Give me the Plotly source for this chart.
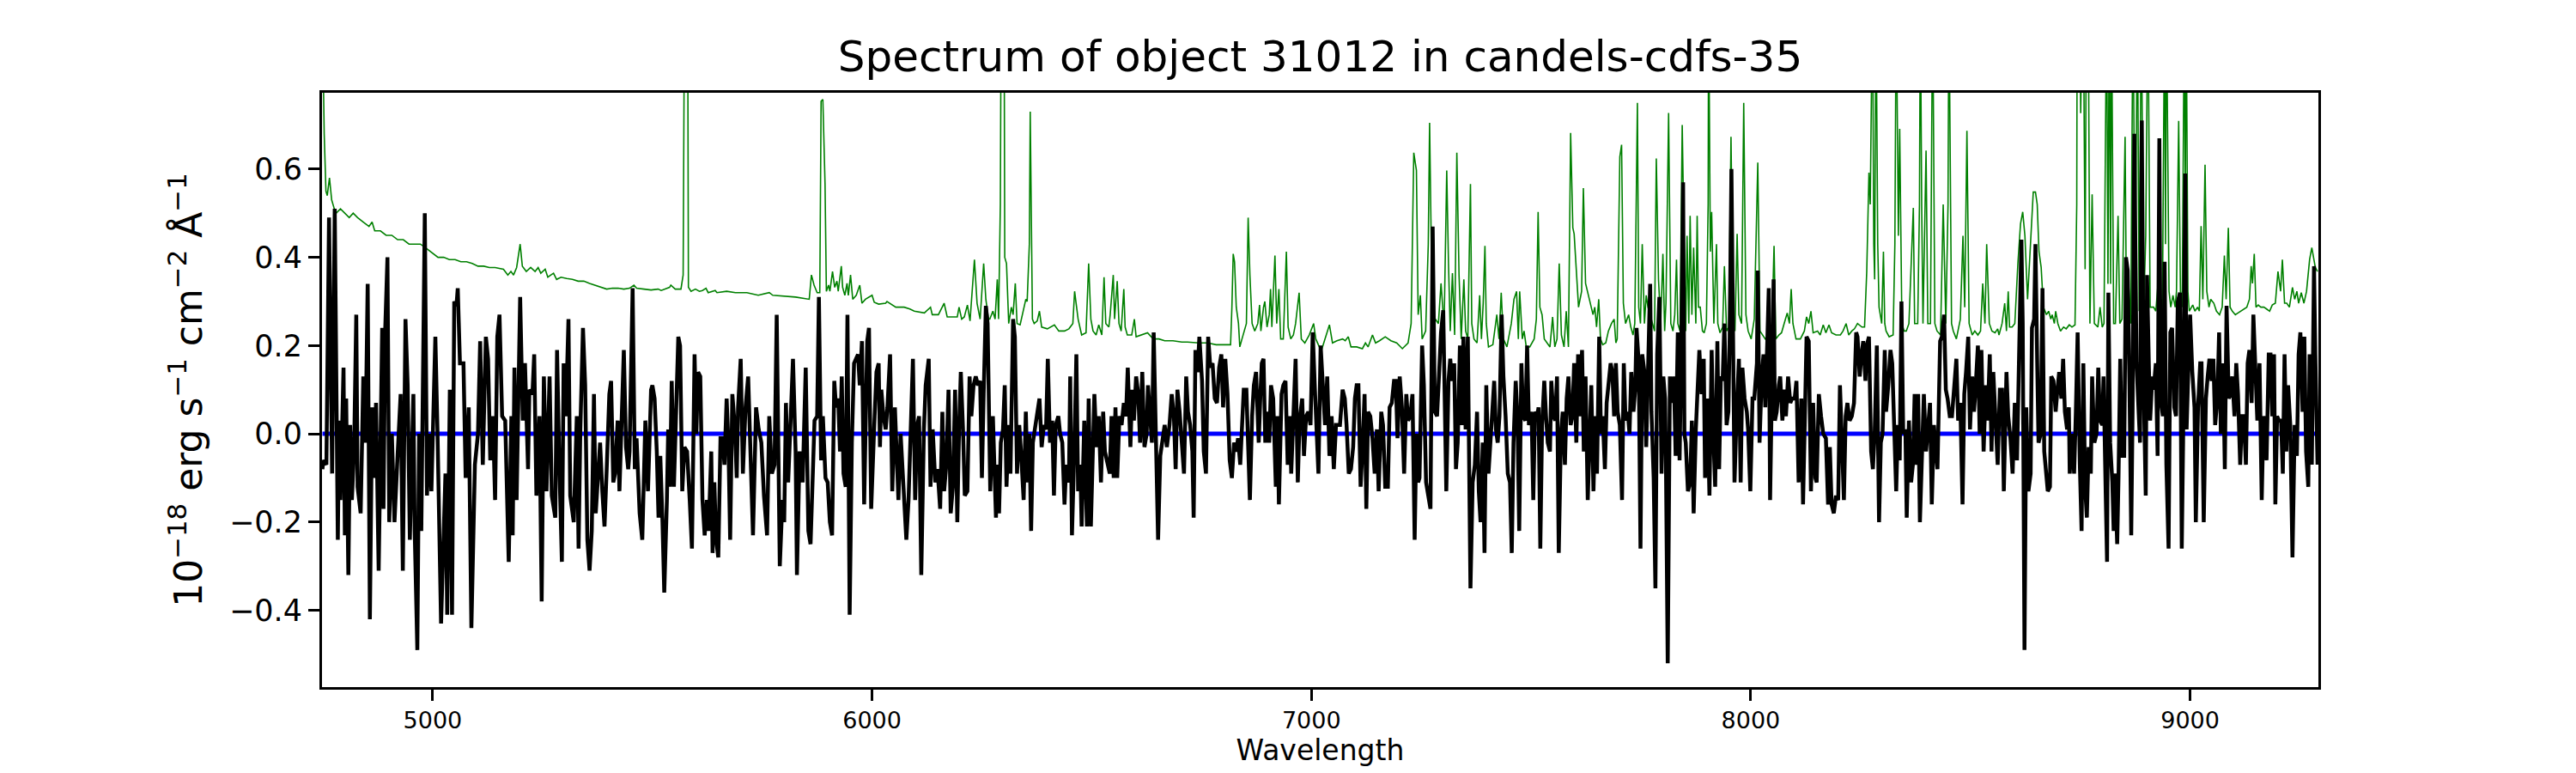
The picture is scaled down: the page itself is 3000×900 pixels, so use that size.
import plotly.graph_objects as go

# ---------------- data ----------------
TITLE = "Spectrum of object 31012 in candels-cdfs-35"
X_LABEL = "Wavelength"
Y_LABEL = "10<sup>\u221218</sup> erg s<sup>\u22121</sup> cm<sup>\u22122</sup> \u00c5<sup>\u22121</sup>"
X_TICKS = [5000, 6000, 7000, 8000, 9000]
Y_TICKS = [-0.4, -0.2, 0.0, 0.2, 0.4, 0.6]

# observed spectrum (black)
SPEC_WAVE = [
    4749, 4751, 4758, 4764, 4771, 4777, 4784, 4787, 4790, 4797,
    4800, 4803, 4808, 4812, 4816, 4821, 4826, 4829, 4836, 4842,
    4847, 4852, 4857, 4862, 4866, 4871, 4877, 4885, 4888, 4892,
    4897, 4901, 4907, 4913, 4920, 4927, 4932, 4938, 4943, 4948,
    4956, 4959, 4965, 4969, 4974, 4982, 4987, 4992, 4997, 5006,
    5011, 5019, 5029, 5033, 5039, 5044, 5049, 5054, 5057, 5062,
    5070, 5075, 5082, 5088, 5096, 5103, 5108, 5114, 5121, 5126,
    5131, 5137, 5142, 5147, 5152, 5158, 5165, 5173, 5179, 5182,
    5186, 5191, 5199, 5205, 5210, 5217, 5220, 5227, 5231, 5236,
    5243, 5248, 5253, 5259, 5266, 5271, 5279, 5283, 5288, 5294,
    5298, 5303, 5309, 5313, 5321, 5328, 5332, 5336, 5342, 5347,
    5352, 5357, 5362, 5367, 5371, 5376, 5381, 5386, 5391, 5396,
    5402, 5406, 5411, 5415, 5421, 5425, 5430, 5435, 5440, 5445,
    5448, 5455, 5460, 5464, 5471, 5477, 5484, 5490, 5497,
    5500, 5505, 5510, 5514, 5518, 5523, 5527, 5533, 5536, 5540,
    5544, 5549, 5553, 5559, 5563, 5568, 5573, 5579, 5585, 5590,
    5596, 5600, 5604, 5609, 5614, 5619, 5624, 5628, 5634, 5637,
    5641, 5645, 5650, 5655, 5660, 5664, 5669, 5673, 5677, 5682,
    5688, 5692, 5695, 5701, 5706, 5712, 5718, 5723, 5729, 5736,
    5742, 5748, 5754, 5761, 5766, 5772, 5778, 5783, 5790, 5796,
    5800, 5804, 5809, 5815, 5820, 5826, 5829, 5835, 5842, 5849,
    5855, 5860, 5865, 5869, 5875, 5879, 5884, 5888, 5894, 5899,
    5904, 5909, 5914, 5918, 5923, 5927, 5931, 5935, 5940, 5944,
    5949, 5954, 5959, 5964, 5968, 5972, 5977, 5982, 5989, 5993,
    5998, 6005, 6010, 6015, 6018, 6021, 6026, 6031, 6035, 6041,
    6046, 6052, 6057, 6060, 6065, 6072, 6078, 6083, 6088, 6093,
    6098, 6103, 6107, 6112, 6118, 6122, 6129, 6133, 6138, 6144,
    6149, 6155, 6160, 6164, 6169, 6174, 6179, 6184, 6189, 6194,
    6198, 6202, 6207, 6211, 6217, 6222, 6226, 6231, 6236, 6241,
    6246, 6250, 6254, 6259, 6263, 6269, 6275,
    6282, 6285, 6289, 6293, 6298, 6302, 6306, 6311, 6315, 6321,
    6325, 6330, 6335, 6339, 6345, 6350, 6354, 6358, 6362, 6366,
    6371, 6376, 6381, 6386, 6391, 6396, 6400, 6405, 6410, 6414,
    6418, 6424, 6428, 6433, 6438, 6442, 6448, 6451, 6455, 6461,
    6465, 6469, 6474, 6477, 6483, 6489, 6493, 6498, 6502, 6506,
    6511, 6516, 6521, 6526, 6530, 6536, 6541, 6545, 6550, 6554,
    6558, 6563, 6568, 6573, 6578, 6582, 6588, 6592, 6596, 6601,
    6606, 6610, 6615, 6620, 6625, 6628, 6632, 6637, 6641, 6646,
    6651, 6656, 6661, 6666, 6671, 6677, 6682, 6687, 6691, 6695,
    6700, 6705, 6710, 6715, 6719, 6724, 6729, 6732, 6736, 6741,
    6745, 6751, 6755, 6760, 6765, 6770, 6775, 6780, 6785, 6790,
    6795, 6799, 6804, 6809, 6814, 6819, 6824, 6829, 6833, 6838,
    6842, 6846, 6852, 6856, 6860, 6865, 6869, 6874, 6880, 6884,
    6887, 6891, 6895, 6899, 6904, 6908, 6913, 6919, 6923, 6926,
    6932, 6936, 6941, 6946, 6951, 6954, 6959, 6964, 6969, 6973,
    6979, 6983, 6988, 6993, 6998, 7003, 7008, 7012, 7016, 7021,
    7025, 7031, 7036, 7041,
    7046, 7051, 7056, 7061, 7065, 7071, 7076, 7080, 7085, 7090,
    7095, 7099, 7103, 7107, 7112, 7116, 7121, 7125, 7129, 7134,
    7139, 7144, 7149, 7153, 7159, 7163, 7168, 7174, 7178, 7183,
    7188, 7192, 7196, 7201, 7206, 7211, 7216, 7220, 7225, 7230,
    7235, 7239, 7243, 7246, 7252, 7256, 7261, 7266, 7271, 7276,
    7281, 7286, 7291, 7295, 7300, 7304, 7307, 7312, 7316, 7320,
    7325, 7329, 7333, 7338, 7342, 7346, 7351, 7356, 7360, 7362,
    7367, 7372, 7377, 7381, 7385, 7390, 7394, 7398, 7403, 7407,
    7412, 7416, 7420, 7424, 7428, 7433, 7437, 7442, 7447, 7452,
    7456, 7460, 7465, 7469, 7473, 7478, 7482, 7487, 7491, 7495,
    7501, 7505, 7509, 7514, 7517, 7521, 7525, 7530, 7534, 7538,
    7543, 7546, 7551, 7555, 7559, 7563, 7568, 7572, 7577, 7581,
    7585, 7590, 7594, 7598, 7603, 7607, 7611, 7616, 7620, 7624,
    7629, 7633, 7637, 7642, 7646, 7650, 7655, 7659, 7663, 7668,
    7672, 7676, 7681, 7685, 7689, 7693, 7697, 7702, 7707, 7711,
    7715, 7720, 7724, 7728, 7733, 7737, 7740, 7745, 7749, 7753,
    7758, 7762, 7766, 7771, 7774, 7779, 7783, 7787, 7792, 7797,
    7801, 7805,
    7807, 7811, 7816, 7821, 7825, 7829, 7834, 7838, 7842, 7846,
    7849, 7852, 7857, 7862, 7866, 7870, 7875, 7878, 7883, 7888,
    7893, 7896, 7901, 7906, 7911, 7915, 7919, 7924, 7928, 7932,
    7936, 7940, 7945, 7949, 7952, 7956, 7960, 7963, 7968, 7973,
    7977, 7981, 7986, 7991, 7994, 7999, 8004, 8008, 8014, 8016,
    8020, 8025, 8029, 8033, 8038, 8041, 8044, 8048, 8052, 8055,
    8059, 8064, 8067, 8072, 8076, 8080, 8085, 8090, 8094, 8100,
    8104, 8109, 8115, 8119, 8124, 8127, 8132, 8137, 8142, 8147,
    8150, 8155, 8160, 8165, 8171, 8176, 8180, 8184, 8189, 8194,
    8199, 8203, 8207, 8212, 8216, 8220, 8225, 8230, 8235, 8240,
    8243, 8248, 8252, 8256, 8261, 8264, 8269, 8274, 8278, 8282,
    8287, 8292, 8296, 8300, 8305, 8308, 8313, 8318, 8322, 8326,
    8331, 8335, 8339, 8343, 8347, 8352, 8355, 8360, 8365, 8369,
    8373, 8378, 8381, 8385, 8390, 8394, 8399, 8404, 8408, 8412,
    8417, 8421, 8425, 8431, 8435, 8440, 8444, 8448, 8453, 8458,
    8463, 8468, 8472, 8477, 8482, 8486, 8490, 8495, 8499, 8504,
    8508, 8511, 8517, 8521, 8525, 8530, 8535, 8539, 8544, 8548,
    8552, 8557, 8562, 8567,
    8572, 8576, 8582, 8586, 8591, 8596, 8601, 8606, 8611, 8616,
    8619, 8623, 8627, 8632, 8637, 8640, 8645, 8648, 8652, 8655,
    8660, 8664, 8668, 8671, 8676, 8681, 8684, 8689, 8694, 8698,
    8702, 8707, 8711, 8715, 8720, 8724, 8726, 8731, 8736, 8740,
    8744, 8749, 8753, 8757, 8761, 8765, 8769, 8774, 8777, 8782,
    8787, 8791, 8795, 8800, 8803, 8808, 8811, 8814, 8818, 8823,
    8826, 8829, 8834, 8837, 8841, 8845, 8850, 8854, 8858, 8862,
    8866, 8869, 8873, 8878, 8881, 8886, 8890, 8894, 8899, 8902,
    8906, 8909, 8914, 8917, 8922, 8926, 8930, 8933, 8938, 8942,
    8946, 8951, 8955, 8959, 8964, 8968, 8972, 8977, 8981, 8984,
    8989, 8992, 8997, 9000, 9005, 9010, 9013, 9018, 9023, 9026,
    9031, 9036, 9040, 9044, 9049, 9053, 9057, 9062, 9066, 9070,
    9075, 9079, 9083, 9088, 9092, 9096, 9101, 9105, 9109, 9114,
    9118, 9122, 9127, 9131, 9135, 9140, 9144, 9148, 9153, 9158,
    9163, 9167, 9171, 9174, 9179, 9183, 9187, 9191, 9194, 9198,
    9202, 9207, 9211, 9215, 9219, 9223, 9228, 9233, 9238, 9243,
    9247, 9251, 9256, 9260, 9264, 9269, 9272, 9277, 9282, 9285,
    9290,
]
SPEC_FLUX = [
    -0.08, -0.06, -0.07, 0.49, -0.09, 0.51, -0.24, 0.03, -0.15, 0.15,
    -0.23, 0.08, -0.32, 0.02, -0.15, -0.04, 0.27, -0.12, -0.18, 0.13,
    -0.02, 0.34, -0.42, 0.06, -0.10, 0.07, -0.31, 0.24, -0.17, 0.24,
    0.40, -0.20, 0.0, -0.20, -0.05, 0.09, -0.31, 0.26, 0.11, -0.24,
    0.09, -0.22, -0.49, 0.0, -0.22, 0.50, -0.14, 0.0, -0.13, 0.22,
    0.0, -0.43, -0.09, -0.41, 0.10, -0.41, 0.30, 0.29, 0.33, 0.16,
    0.16, -0.10, 0.06, -0.44, -0.07, 0.0, 0.21, -0.07, 0.22, 0.17,
    -0.06, 0.04, -0.15, 0.22, 0.27, 0.04, 0.03, -0.29, 0.04, -0.23,
    0.15, -0.15, 0.31, 0.03, 0.16, -0.08, 0.10, 0.09, 0.18, -0.14,
    0.04, -0.38, 0.13, -0.13, 0.13, -0.14, -0.19, 0.19, -0.06, -0.29,
    0.16, 0.04, 0.26, -0.14, -0.20, 0.04, -0.26, 0.01, 0.24, 0.11,
    -0.24, -0.31, -0.22, 0.09, -0.18, -0.11, -0.02, -0.13, -0.21, -0.08,
    0.09, 0.12, -0.11, -0.09, 0.03, -0.13, 0.04, 0.19, -0.03, -0.08,
    -0.04, 0.33, -0.08, -0.01, -0.18, -0.24, 0.03, -0.13, 0.10,
    0.11, 0.08, -0.04, -0.19, -0.05, -0.20, -0.36, -0.15, 0.01, -0.12,
    0.12, -0.12, 0.0, 0.22, 0.20, -0.13, -0.03, -0.04, -0.15, -0.26,
    0.18, 0.0, 0.14, 0.13, -0.15, -0.23, -0.15, -0.22, -0.04, -0.27,
    -0.11, -0.24, -0.28, -0.01, -0.01, -0.07, 0.08, -0.02, -0.24, 0.09,
    0.01, -0.10, 0.06, 0.17, -0.09, 0.06, 0.13, -0.02, -0.23, 0.06,
    0.01, -0.02, -0.14, -0.23, 0.04, -0.09, -0.07, 0.27, -0.30, -0.15,
    -0.20, 0.07, -0.11, 0.04, 0.17, -0.04, -0.32, -0.04, -0.11, 0.15,
    -0.22, -0.25, -0.07, 0.03, 0.04, 0.31, -0.06, 0.04, -0.10, -0.11,
    -0.20, -0.23, 0.12, 0.06, 0.08, -0.04, 0.13, -0.09, -0.12, 0.27,
    -0.41, -0.02, 0.16, 0.17, 0.18, 0.11, 0.21, -0.16, 0.21, 0.24,
    -0.17, 0.02, 0.14, 0.16, -0.03, 0.10, 0.04, 0.01, 0.06, 0.18,
    -0.13, 0.06, -0.11, -0.15, 0.0, -0.13, -0.24, -0.15, 0.04, 0.17,
    -0.15, 0.02, 0.04, -0.32, 0.01, 0.11, 0.17, -0.12, 0.01, -0.11,
    -0.08, -0.17, 0.05, -0.13, -0.07, 0.10, -0.18, -0.12, 0.10, -0.20,
    0.01, 0.14, 0.01, -0.14, -0.13, 0.13, 0.04, 0.11, 0.13, 0.11,
    0.12, -0.10, 0.09, 0.29, 0.25, -0.13, 0.04,
    -0.19, -0.07, -0.18, -0.02, 0.01, 0.11, -0.12, 0.02, -0.09, 0.26,
    0.22, -0.09, 0.02, -0.04, -0.15, 0.05, -0.11, 0.0, -0.22, -0.02,
    0.01, 0.04, 0.08, -0.03, 0.02, 0.01, 0.17, -0.02, 0.03, -0.14,
    0.02, 0.04, 0.0, -0.02, -0.16, -0.07, -0.11, 0.13, -0.23, -0.01,
    0.18, -0.13, -0.07, -0.21, 0.03, -0.21, 0.08, -0.21, -0.07, 0.09,
    -0.03, 0.04, -0.11, 0.05, -0.04, -0.07, -0.09, 0.04, -0.10, 0.06,
    -0.10, 0.04, 0.02, 0.07, 0.04, 0.15, -0.03, 0.10, 0.03, 0.13,
    0.09, -0.02, 0.14, -0.03, 0.0, 0.11, 0.04, -0.02, 0.23, -0.01,
    -0.24, -0.05, -0.02, 0.02, -0.03, 0.02, 0.09, 0.04, -0.08, 0.10,
    0.05, -0.02, -0.09, 0.13, 0.05, 0.02, -0.04, -0.19, 0.19, 0.14,
    0.22, 0.12, -0.04, -0.09, 0.22, 0.15, 0.16, 0.08, 0.07, 0.15,
    0.18, 0.06, 0.17, 0.09, -0.06, -0.10, -0.02, -0.04, -0.01, -0.07,
    0.0, 0.10, 0.10, -0.02, -0.15, 0.04, 0.11, 0.14, -0.02, 0.09,
    0.16, 0.17, -0.02, 0.05, -0.02, 0.11, 0.08, -0.12, 0.04, -0.16,
    0.09, 0.11, 0.12, -0.07, 0.04, -0.09, 0.07, 0.17, -0.11, 0.03,
    0.08, -0.05, 0.04, 0.05, 0.02, 0.23, 0.10, -0.02, -0.09, 0.20,
    0.14, 0.02, 0.13, -0.05,
    0.04, -0.08, 0.02, 0.02, 0.02, 0.10, 0.08, 0.02, -0.09, -0.08,
    -0.03, 0.08, 0.11, 0.11, -0.12, -0.04, 0.09, -0.17, 0.05, 0.04,
    -0.01, -0.09, 0.01, -0.13, 0.05, 0.02, -0.12, -0.12, 0.06, 0.07,
    0.12, 0.12, -0.01, 0.13, 0.06, -0.09, 0.09, 0.03, 0.04, 0.09,
    -0.24, 0.0, -0.11, -0.10, 0.20, 0.11, -0.11, -0.14, -0.17, 0.47,
    0.05, 0.04, 0.14, 0.23, 0.28, 0.03, -0.13, 0.12, 0.17, 0.12,
    0.16, -0.08, -0.02, 0.20, 0.02, 0.22, 0.01, 0.22, -0.06, -0.35,
    -0.11, -0.07, 0.05, -0.13, -0.20, -0.02, -0.27, 0.11, -0.09, -0.02,
    0.05, 0.12, 0.01, -0.02, 0.04, 0.27, 0.13, 0.04, -0.09, -0.11,
    -0.27, -0.02, 0.12, 0.04, -0.22, 0.16, 0.04, 0.03, 0.20, 0.02,
    0.05, -0.15, 0.05, 0.04, 0.06, -0.26, 0.02, 0.12, 0.04, -0.02,
    -0.04, 0.12, 0.04, 0.03, 0.13, -0.27, 0.0, 0.05, -0.07, 0.08,
    0.13, 0.02, 0.04, 0.16, -0.02, 0.18, 0.04, 0.19, -0.04, 0.13,
    -0.15, 0.02, 0.11, -0.13, 0.04, -0.09, 0.22, 0.0, 0.04, -0.08,
    0.07, 0.11, 0.16, 0.14, 0.04, 0.16, 0.05, 0.02, -0.15, 0.16,
    0.03, 0.05, 0.0, 0.14, 0.05, 0.10, 0.24, 0.16, -0.26, 0.18,
    0.14, -0.03, 0.13, 0.34, 0.05, -0.10, -0.35, 0.18, 0.31, -0.09,
    0.13, 0.08,
    -0.07, -0.52, 0.13, 0.07, 0.13, -0.05, 0.23, -0.06, 0.20, 0.57,
    0.0, -0.02, -0.13, -0.11, 0.03, -0.18, 0.01, 0.08, 0.19, 0.09,
    0.17, -0.10, 0.08, -0.14, 0.19, -0.01, -0.12, 0.21, -0.08, 0.13,
    0.12, 0.25, 0.02, 0.05, 0.22, 0.60, 0.02, -0.11, 0.05, 0.17,
    -0.11, 0.15, 0.08, 0.05, 0.01, -0.13, 0.08, 0.08, 0.16, 0.37,
    -0.02, 0.13, 0.18, 0.06, 0.22, 0.33, -0.15, 0.13, 0.35, 0.03,
    0.05, 0.11, 0.13, 0.03, 0.10, 0.04, 0.13, 0.07, 0.08, 0.08,
    0.12, -0.11, 0.08, -0.16, 0.04, 0.22, 0.21, -0.13, 0.07, -0.10,
    -0.11, 0.09, 0.04, 0.0, -0.01, -0.16, -0.03, -0.16, -0.18, -0.14,
    -0.15, 0.11, 0.0, -0.15, 0.04, 0.07, 0.03, 0.04, 0.07, 0.23,
    0.22, 0.13, 0.18, 0.21, 0.12, 0.20, 0.22, -0.04, -0.08, 0.0,
    0.20, -0.20, -0.02, 0.0, 0.19, 0.05, 0.11, 0.19, 0.16, 0.05,
    -0.13, 0.02, -0.06, 0.30, 0.0, 0.01, -0.19, 0.03, -0.11, -0.07,
    0.09, -0.07, 0.09, -0.20, 0.01, 0.09, -0.04, 0.01, 0.07, -0.16,
    0.02, -0.04, -0.08, 0.21, 0.22, 0.27, 0.10, 0.08, 0.04, 0.04,
    0.10, 0.17, 0.03, 0.07, -0.16, 0.09, 0.14, 0.22, 0.01, 0.13,
    0.05, 0.09, 0.20, 0.0, 0.19, -0.04, 0.11, 0.03, 0.18, -0.04,
    0.14, 0.05, -0.07, 0.10,
    0.10, -0.13, 0.14, 0.04, -0.01, -0.09, 0.07, -0.06, 0.20, 0.44,
    0.25, -0.49, 0.06, -0.13, -0.09, 0.24, 0.26, 0.43, 0.16, -0.02,
    0.0, 0.33, -0.04, -0.07, -0.13, -0.12, 0.13, 0.12, 0.05, 0.10,
    0.14, 0.08, 0.17, 0.05, 0.01, 0.06, -0.09, 0.0, -0.09, 0.05,
    0.23, -0.07, -0.22, 0.16, -0.12, -0.19, -0.03, -0.09, 0.13, -0.02,
    0.0, 0.15, 0.03, 0.02, 0.13, -0.14, -0.29, 0.32, -0.02, -0.11,
    -0.22, -0.09, -0.25, -0.10, 0.17, -0.05, -0.05, 0.40, 0.37, 0.11,
    -0.23, 0.05, 0.68, 0.16, 0.08, -0.02, 0.71, 0.12, -0.14, 0.36,
    0.16, 0.03, 0.13, 0.10, 0.16, -0.05, 0.67, 0.08, 0.04, 0.39,
    -0.07, -0.26, 0.23, 0.24, 0.06, 0.04, 0.30, 0.32, -0.26, -0.02,
    0.59, 0.01, 0.18, 0.27, 0.14, 0.06, -0.20, 0.06, 0.16, 0.16,
    -0.20, 0.08, 0.13, 0.17, 0.12, 0.17, 0.02, 0.08, 0.23, 0.0,
    0.16, -0.08, 0.29, 0.08, 0.09, 0.13, 0.04, 0.16, 0.09, -0.07,
    0.04, 0.04, -0.07, 0.16, 0.19, 0.07, 0.27, 0.14, 0.03, 0.16,
    -0.15, 0.04, 0.0, -0.06, 0.18, 0.18, 0.04, 0.18, -0.16, 0.04,
    0.03, 0.03, -0.09, 0.18, -0.04, 0.11, 0.02, -0.28, 0.02, -0.05,
    0.18, 0.23, 0.05, 0.22, -0.04, -0.12, 0.18, -0.07, 0.38, 0.18,
    -0.07,
]

# noise / sky spectrum (green)
SKY_WAVE = [
    4749, 4753, 4757, 4760, 4765, 4770, 4776, 4780, 4790, 4800,
    4810, 4819, 4829, 4842, 4855, 4862, 4868, 4881, 4894, 4907,
    4920, 4933, 4946, 4959, 4972, 4986, 4999, 5012, 5025, 5038,
    5051, 5064, 5077, 5090, 5103, 5116, 5129, 5142, 5161, 5171,
    5178, 5184, 5191, 5194, 5199, 5204, 5213, 5223, 5233, 5240,
    5246, 5256, 5262, 5269, 5275, 5282, 5292, 5305, 5318, 5331,
    5344, 5357, 5370, 5383, 5396, 5409, 5422, 5435, 5448, 5458,
    5464, 5481, 5497, 5513, 5520, 5539, 5542, 5552, 5565, 5570,
    5573, 5577, 5579, 5582, 5588, 5598, 5607, 5614, 5622, 5627,
    5643, 5647, 5669, 5689, 5715, 5741, 5766, 5774, 5800, 5826,
    5857, 5862, 5868, 5875, 5881, 5884, 5888, 5891, 5893, 5896,
    5901, 5904, 5910, 5915, 5920, 5923, 5930, 5933, 5938, 5943,
    5946, 5951, 5956, 5964, 5972, 5977, 5985, 6000, 6005, 6015,
    6031, 6034, 6054, 6073, 6086, 6096, 6119, 6133, 6137, 6151,
    6164, 6171, 6184, 6194, 6198, 6204, 6210, 6217, 6223, 6233,
    6239, 6246, 6254, 6259, 6265, 6268, 6275, 6280, 6285, 6288,
    6292, 6293, 6296, 6300, 6302, 6306, 6311, 6317, 6321, 6326,
    6330, 6337, 6343, 6350, 6353, 6358, 6360, 6363, 6365, 6369,
    6376, 6381, 6386, 6399, 6415, 6425, 6438, 6448, 6457, 6461,
    6464, 6469, 6477, 6487, 6493, 6498, 6503, 6510, 6516, 6523,
    6528, 6532, 6539, 6542, 6549, 6552, 6558, 6562, 6567, 6573,
    6576, 6581, 6591, 6597, 6601, 6614, 6627, 6640, 6653, 6666,
    6685, 6705, 6718, 6744, 6764, 6783, 6816, 6819, 6822, 6825,
    6829, 6834, 6837, 6842, 6852, 6856, 6860, 6865, 6871, 6878,
    6882, 6885, 6891, 6894, 6899, 6904, 6907, 6910, 6917, 6921,
    6926, 6930, 6936, 6943, 6947, 6953, 6959, 6964, 6972, 6977,
    6985, 6995, 7005, 7010, 7018, 7024, 7033, 7041, 7048, 7058,
    7071, 7077, 7084, 7090, 7103, 7116, 7123, 7129, 7139, 7146,
    7155, 7168, 7181, 7194, 7207, 7220, 7227, 7233, 7239, 7243,
    7248, 7252, 7260, 7266, 7269, 7273, 7278, 7282, 7289, 7295,
    7302, 7308, 7312, 7316, 7321, 7326, 7331, 7336, 7341, 7347,
    7351, 7356, 7362, 7365, 7370, 7377, 7383, 7387, 7391, 7395,
    7398, 7403, 7413, 7422, 7427, 7432, 7437, 7445, 7455, 7461,
    7467, 7471, 7474, 7480, 7484, 7489, 7497, 7507, 7512, 7516,
    7520, 7525, 7530, 7536, 7543, 7549, 7554, 7559, 7564, 7569,
    7575, 7580, 7585, 7590, 7595, 7598, 7603, 7608, 7615, 7619,
    7624, 7630, 7634, 7641, 7645, 7649, 7654, 7658, 7663, 7670,
    7676, 7683, 7689, 7693, 7696, 7702, 7706, 7710, 7715, 7722,
    7727, 7732, 7736, 7742, 7745, 7749, 7753, 7758, 7762, 7766,
    7771, 7781, 7785, 7790, 7795, 7800, 7804, 7807, 7813, 7818,
    7823, 7827, 7831, 7834, 7839, 7844, 7848, 7852, 7855, 7859,
    7862, 7866, 7870, 7875, 7878, 7881, 7885, 7890, 7894, 7899,
    7903, 7904, 7908, 7911, 7916, 7922, 7925, 7930, 7936, 7940,
    7945, 7950, 7955, 7960, 7964, 7969, 7973, 7979, 7984, 7989,
    7994, 8001, 8008, 8016, 8021, 8027, 8033, 8041, 8048, 8053,
    8057, 8064, 8070, 8076, 8083, 8088, 8092, 8096, 8103, 8113,
    8122, 8127, 8132, 8137, 8142, 8152, 8158, 8165, 8171, 8178,
    8184, 8194, 8204, 8210, 8217, 8223, 8230, 8236, 8243, 8253,
    8259, 8264, 8269, 8272, 8277, 8280, 8282, 8285, 8289, 8292,
    8298, 8302, 8305, 8308, 8315, 8324, 8328, 8331, 8336, 8339,
    8344, 8349, 8354, 8360, 8370, 8373, 8380, 8384, 8386, 8389,
    8392, 8399, 8403, 8409, 8414, 8419, 8424, 8432, 8438, 8444,
    8449, 8451, 8454, 8457, 8461, 8468, 8477, 8483, 8487, 8492,
    8497, 8504, 8510, 8517, 8523, 8528, 8533, 8537, 8543, 8549,
    8556, 8562, 8565, 8572, 8578, 8582, 8586, 8589, 8595, 8601,
    8608, 8614, 8619, 8624, 8630, 8637, 8643, 8648, 8652, 8656,
    8661, 8666, 8673, 8678, 8683, 8686, 8691, 8694, 8699, 8705,
    8712, 8718, 8725, 8731, 8738, 8742, 8743, 8748, 8751, 8755,
    8757, 8761, 8764, 8768, 8772, 8777, 8782, 8790, 8795, 8800,
    8804, 8810, 8813, 8816, 8819, 8821, 8826, 8830, 8836, 8840,
    8845, 8852, 8855, 8860, 8865, 8870, 8875, 8880, 8884, 8889,
    8894, 8899, 8904, 8909, 8917, 8922, 8927, 8931, 8937, 8942,
    8944, 8946, 8952, 8956, 8961, 8966, 8969, 8974, 8978, 8982,
    8987, 8989, 8991, 8995, 8998, 9006, 9011, 9017, 9021, 9025,
    9029, 9034, 9038, 9043, 9047, 9054, 9060, 9067, 9073, 9078,
    9082, 9087, 9091, 9096, 9103, 9109, 9116, 9122, 9129, 9135,
    9139, 9142, 9146, 9150, 9155, 9161, 9168, 9174, 9181, 9187,
    9194, 9200, 9206, 9210, 9215, 9220, 9226, 9233, 9238, 9243,
    9247, 9253, 9259, 9265, 9272, 9277, 9282, 9285, 9290,
]
SKY_FLUX = [
    0.95, 0.68, 0.55, 0.54, 0.58, 0.53, 0.51, 0.50, 0.51, 0.50,
    0.49, 0.50, 0.49, 0.48, 0.47, 0.48, 0.46, 0.46, 0.45, 0.45,
    0.44, 0.44, 0.43, 0.43, 0.43, 0.42, 0.41, 0.40, 0.40, 0.395,
    0.395, 0.39, 0.39, 0.386, 0.38, 0.38, 0.377, 0.377, 0.373, 0.36,
    0.368, 0.36, 0.377, 0.395, 0.43, 0.38, 0.368, 0.377, 0.368, 0.377,
    0.364, 0.373, 0.355, 0.36, 0.364, 0.35, 0.355, 0.352, 0.35, 0.346,
    0.346, 0.341, 0.337, 0.332, 0.328, 0.33, 0.33, 0.328, 0.33, 0.337,
    0.33, 0.328, 0.326, 0.328, 0.325, 0.332, 0.337, 0.328, 0.328, 0.36,
    1.5, 1.8, 1.5, 0.332, 0.323, 0.328, 0.323, 0.325, 0.33, 0.32,
    0.325, 0.32, 0.323, 0.32, 0.32, 0.314, 0.32, 0.314, 0.312, 0.31,
    0.305, 0.36, 0.337, 0.32, 0.32, 0.754, 0.758, 0.61, 0.565, 0.323,
    0.337, 0.323, 0.368, 0.332, 0.346, 0.323, 0.38, 0.332, 0.314, 0.341,
    0.314, 0.36, 0.305, 0.314, 0.337, 0.296, 0.305, 0.314, 0.298, 0.294,
    0.296, 0.30, 0.287, 0.287, 0.283, 0.278, 0.274, 0.287, 0.27, 0.27,
    0.296, 0.265, 0.265, 0.265, 0.287, 0.26, 0.265, 0.292, 0.256, 0.395,
    0.296, 0.26, 0.386, 0.305, 0.26, 0.26, 0.278, 0.26, 0.35, 0.26,
    0.52, 1.2, 1.6, 1.2, 0.40, 0.386, 0.25, 0.287, 0.27, 0.341,
    0.25, 0.247, 0.274, 0.305, 0.30, 0.43, 0.73, 0.40, 0.26, 0.25,
    0.256, 0.278, 0.242, 0.238, 0.247, 0.233, 0.233, 0.238, 0.25, 0.323,
    0.296, 0.26, 0.224, 0.229, 0.386, 0.26, 0.233, 0.224, 0.247, 0.224,
    0.355, 0.25, 0.242, 0.27, 0.36, 0.26, 0.346, 0.25, 0.233, 0.328,
    0.242, 0.224, 0.224, 0.26, 0.22, 0.224, 0.229, 0.215, 0.215, 0.211,
    0.211, 0.208, 0.208, 0.206, 0.206, 0.202, 0.202, 0.287, 0.408, 0.39,
    0.287, 0.25, 0.197, 0.215, 0.25, 0.49, 0.36, 0.25, 0.233, 0.25,
    0.292, 0.233, 0.287, 0.30, 0.242, 0.27, 0.328, 0.242, 0.404, 0.25,
    0.328, 0.215, 0.215, 0.413, 0.242, 0.215, 0.224, 0.25, 0.32, 0.215,
    0.206, 0.224, 0.25, 0.215, 0.197, 0.193, 0.22, 0.247, 0.206, 0.211,
    0.215, 0.211, 0.22, 0.197, 0.197, 0.193, 0.206, 0.197, 0.224, 0.206,
    0.211, 0.22, 0.211, 0.206, 0.193, 0.206, 0.25, 0.637, 0.597, 0.27,
    0.314, 0.215, 0.233, 0.43, 0.705, 0.413, 0.229, 0.26, 0.25, 0.341,
    0.242, 0.597, 0.386, 0.233, 0.364, 0.224, 0.637, 0.36, 0.215, 0.35,
    0.233, 0.215, 0.566, 0.25, 0.215, 0.206, 0.314, 0.215, 0.296, 0.426,
    0.25, 0.197, 0.202, 0.27, 0.215, 0.32, 0.215, 0.197, 0.25, 0.305,
    0.323, 0.215, 0.323, 0.215, 0.233, 0.197, 0.197, 0.215, 0.26, 0.503,
    0.287, 0.27, 0.215, 0.206, 0.197, 0.265, 0.197, 0.215, 0.386, 0.224,
    0.197, 0.278, 0.197, 0.682, 0.467, 0.453, 0.36, 0.287, 0.323, 0.557,
    0.341, 0.314, 0.30, 0.27, 0.287, 0.242, 0.305, 0.215, 0.202, 0.206,
    0.233, 0.25, 0.26, 0.206, 0.215, 0.628, 0.655, 0.296, 0.25, 0.27,
    0.242, 0.224, 0.25, 0.75, 0.287, 0.25, 0.43, 0.25, 0.314, 0.287,
    0.27, 0.233, 0.624, 0.35, 0.25, 0.408, 0.233, 0.296, 0.727, 0.25,
    0.233, 0.27, 0.395, 0.25, 0.233, 0.70, 0.449, 0.233, 0.449, 0.25,
    0.494, 0.27, 0.422, 0.25, 0.494, 0.287, 0.287, 0.233, 0.229, 0.25,
    0.52, 1.0, 0.413, 0.503, 0.25, 0.43, 0.25, 0.229, 0.242, 0.38,
    0.233, 0.242, 0.673, 0.27, 0.233, 0.453, 0.27, 0.25, 0.75, 0.27,
    0.233, 0.215, 0.26, 0.615, 0.233, 0.224, 0.215, 0.224, 0.233, 0.426,
    0.215, 0.224, 0.229, 0.25, 0.274, 0.25, 0.328, 0.25, 0.215, 0.215,
    0.233, 0.265, 0.25, 0.278, 0.229, 0.233, 0.224, 0.247, 0.229, 0.247,
    0.229, 0.224, 0.224, 0.233, 0.25, 0.224, 0.233, 0.238, 0.25, 0.242,
    0.242, 0.368, 0.592, 0.52, 1.0, 0.43, 0.35, 1.0, 0.43, 0.287,
    0.25, 0.413, 0.25, 0.233, 0.22, 0.224, 0.43, 1.0, 0.449, 0.691,
    0.25, 0.233, 0.233, 0.25, 0.512, 0.25, 0.25, 0.52, 1.0, 0.52,
    0.25, 0.642, 0.25, 0.25, 1.0, 0.25, 0.233, 0.224, 0.52, 0.25,
    0.52, 1.0, 0.52, 0.25, 0.233, 0.215, 0.26, 0.449, 0.287, 0.687,
    0.25, 0.224, 0.233, 0.224, 0.233, 0.341, 0.25, 0.43, 0.25, 0.233,
    0.229, 0.238, 0.224, 0.25, 0.296, 0.233, 0.323, 0.242, 0.242, 0.25,
    0.386, 0.476, 0.503, 0.449, 0.305, 0.43, 0.548, 0.548, 0.52, 0.413,
    0.377, 0.287, 0.27, 0.278, 0.26, 0.27, 0.25, 0.278, 0.25, 0.233,
    0.242, 0.238, 0.247, 0.242, 0.247, 0.52, 1.0, 1.0, 0.727, 1.0,
    1.0, 0.373, 1.0, 1.0, 0.25, 0.543, 0.25, 0.242, 0.287, 0.242,
    0.25, 1.0, 0.34, 1.0, 0.34, 1.0, 0.25, 0.25, 0.494, 0.25,
    0.26, 0.673, 0.287, 0.341, 0.25, 1.0, 0.287, 1.0, 0.278, 1.0,
    0.27, 0.449, 1.0, 0.287, 0.287, 0.278, 0.341, 0.27, 0.287, 1.0,
    0.43, 1.0, 0.323, 0.287, 0.314, 0.287, 0.323, 0.709, 0.323, 0.287,
    1.0, 0.52, 1.0, 0.323, 0.278, 0.292, 0.278, 0.287, 0.278, 0.471,
    0.305, 0.61, 0.323, 0.287, 0.305, 0.296, 0.278, 0.27, 0.287, 0.404,
    0.305, 0.467, 0.287, 0.278, 0.27, 0.274, 0.278, 0.283, 0.287, 0.305,
    0.38, 0.341, 0.408, 0.287, 0.292, 0.287, 0.287, 0.283, 0.278, 0.292,
    0.296, 0.368, 0.323, 0.395, 0.296, 0.296, 0.287, 0.332, 0.305, 0.323,
    0.296, 0.32, 0.296, 0.323, 0.395, 0.422, 0.395, 0.377, 0.368,
]

# model (blue, flat zero)
MODEL_WAVE = [4749, 9291]
MODEL_FLUX = [0.0, 0.0]

X_RANGE = [4748, 9292]
Y_RANGE = [-0.574, 0.773]

assert len(SPEC_WAVE) == len(SPEC_FLUX), (len(SPEC_WAVE), len(SPEC_FLUX))
assert len(SKY_WAVE) == len(SKY_FLUX), (len(SKY_WAVE), len(SKY_FLUX))

FONT = "DejaVu Sans"

fig = go.Figure()
fig.add_trace(go.Scatter(x=SKY_WAVE, y=SKY_FLUX, mode="lines",
                         line=dict(color="#008000", width=1.6), hoverinfo="skip"))
fig.add_trace(go.Scatter(x=MODEL_WAVE, y=MODEL_FLUX, mode="lines",
                         line=dict(color="#0000ff", width=5), hoverinfo="skip"))
fig.add_trace(go.Scatter(x=SPEC_WAVE, y=SPEC_FLUX, mode="lines",
                         line=dict(color="#000000", width=4.5), hoverinfo="skip"))

fig.update_layout(
    width=3000, height=900,
    margin=dict(l=375, r=300, t=108, b=100, pad=0),
    paper_bgcolor="white", plot_bgcolor="white",
    showlegend=False,
    font=dict(family=FONT, color="black"),
    title=dict(text=TITLE, font=dict(family=FONT, size=50, color="black"),
               x=0.5, xref="paper", xanchor="center",
               y=1 - 65 / 900, yref="container", yanchor="middle"),
    xaxis=dict(range=X_RANGE, tickvals=X_TICKS, ticks="outside", ticklen=13,
               tickwidth=2.5, tickcolor="black", showline=True, linewidth=3,
               linecolor="black", mirror=True, showgrid=False, zeroline=False,
               tickfont=dict(family=FONT, size=27, color="black"),
               title=dict(text=X_LABEL, font=dict(family=FONT, size=33, color="black"),
                          standoff=6)),
    yaxis=dict(range=Y_RANGE, tickvals=Y_TICKS, tickformat=".1f", ticks="outside",
               ticklen=13, tickwidth=2.5, tickcolor="black", showline=True,
               linewidth=3, linecolor="black", mirror=True, showgrid=False,
               zeroline=False,
               tickfont=dict(family=FONT, size=35, color="black"),
               title=dict(text=Y_LABEL, font=dict(family=FONT, size=44, color="black"),
                          standoff=18)),
)

fig.write_html("out.html", config={"displayModeBar": False},
               post_script="document.body.style.margin='0';")
